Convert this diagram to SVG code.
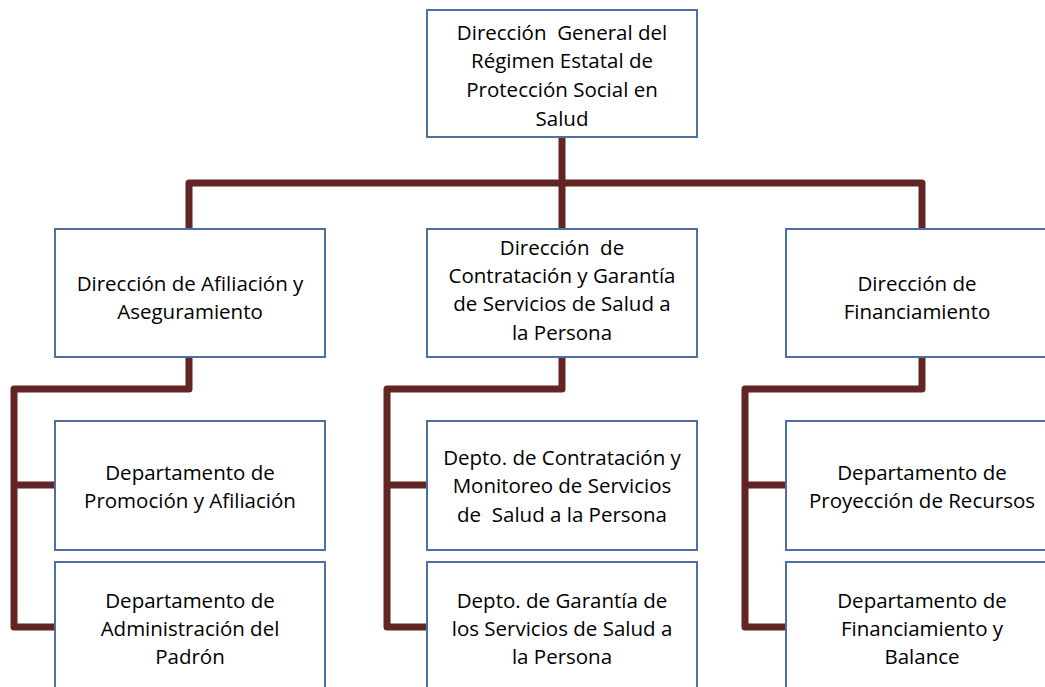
<svg xmlns="http://www.w3.org/2000/svg" width="1045" height="687" viewBox="0 0 1045 687">
<style>
.box{fill:#fff;stroke:#4f6fa0;stroke-width:2}
.con{fill:none;stroke:#632523;stroke-width:7;stroke-linejoin:round;stroke-linecap:butt}
text{font-family:"Open Sans","Liberation Sans",sans-serif;font-size:20.5px;fill:#000;text-anchor:middle;white-space:pre}
</style>
<rect width="1045" height="687" fill="#fff"/>
<g id="connectors">
<path class="con" d="M562 137V229M189 229V183H922V229"/>
<path class="con" d="M189 357V389H14V627H55M14 485H55"/>
<path class="con" d="M562 357V389H387V627H427M387 485H427"/>
<path class="con" d="M922 357V389H745V627H786M745 485H786"/>
</g>
<g id="n0"><rect class="box" x="427" y="10" width="270" height="127"/>
<text x="562" y="40" xml:space="preserve">Dirección  General del</text><text x="562" y="68">Régimen Estatal de</text><text x="562" y="97">Protección Social en</text><text x="562" y="126">Salud</text></g>
<g id="n1"><rect class="box" x="55" y="229" width="270" height="128"/>
<text x="190" y="291">Dirección de Afiliación y</text><text x="190" y="319">Aseguramiento</text></g>
<g id="n2"><rect class="box" x="427" y="229" width="270" height="128"/>
<text x="562" y="255" xml:space="preserve">Dirección  de</text><text x="562" y="283">Contratación y Garantía</text><text x="562" y="311">de Servicios de Salud a</text><text x="562" y="340">la Persona</text></g>
<g id="n3"><rect class="box" x="786" y="229" width="272" height="128"/>
<text x="917" y="291">Dirección de</text><text x="917" y="319">Financiamiento</text></g>
<g id="n4"><rect class="box" x="55" y="421" width="270" height="129"/>
<text x="190" y="480">Departamento de</text><text x="190" y="508">Promoción y Afiliación</text></g>
<g id="n5"><rect class="box" x="55" y="562" width="270" height="140"/>
<text x="190" y="608">Departamento de</text><text x="190" y="636">Administración del</text><text x="190" y="664">Padrón</text></g>
<g id="n6"><rect class="box" x="427" y="421" width="270" height="129"/>
<text x="562" y="465">Depto. de Contratación y</text><text x="562" y="493">Monitoreo de Servicios</text><text x="562" y="522" xml:space="preserve">de  Salud a la Persona</text></g>
<g id="n7"><rect class="box" x="427" y="562" width="270" height="140"/>
<text x="562" y="608">Depto. de Garantía de</text><text x="562" y="636">los Servicios de Salud a</text><text x="562" y="664">la Persona</text></g>
<g id="n8"><rect class="box" x="786" y="421" width="272" height="129"/>
<text x="922" y="480">Departamento de</text><text x="922" y="508">Proyección de Recursos</text></g>
<g id="n9"><rect class="box" x="786" y="562" width="272" height="140"/>
<text x="922" y="608">Departamento de</text><text x="922" y="636">Financiamiento y</text><text x="922" y="664">Balance</text></g>
</svg>
